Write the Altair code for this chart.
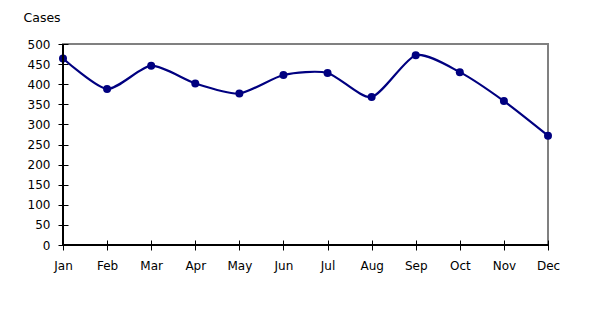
import altair as alt
import pandas as pd

months = ["Jan", "Feb", "Mar", "Apr", "May", "Jun", "Jul", "Aug", "Sep", "Oct", "Nov", "Dec"]
cases = [464, 388, 446, 402, 377, 423, 428, 368, 472, 430, 358, 272]
y_ticks = list(range(0, 501, 50))

df = pd.DataFrame({"month": months, "cases": cases})
one = pd.DataFrame({"k": [0]})

FONT = "DejaVu Sans"
NAVY = "#000080"
W, H = 485, 201

x_scale = alt.Scale(type="point", padding=0, domain=months)
y_scale = alt.Scale(domain=[0, 500], nice=False, zero=True)

x_enc = alt.X("month:N", sort=months, scale=x_scale,
              axis=alt.Axis(title=None, domain=False, offset=-5, tickSize=10, tickColor="black",
                            tickWidth=1, labelPadding=10, labelAngle=0, labelFont=FONT,
                            labelFontSize=12, labelColor="black", grid=False, labelOverlap=False))
y_enc = alt.Y("cases:Q", scale=y_scale,
              axis=alt.Axis(values=y_ticks, domain=False, offset=-5, tickSize=10, tickColor="black",
                            tickWidth=1, labelPadding=8, labelFont=FONT, labelFontSize=12,
                            labelColor="black", grid=False, labelOverlap=False, title="Cases",
                            titleAngle=0, titleAlign="left", titleBaseline="alphabetic",
                            titleX=-45, titleY=-23, titleFont=FONT, titleFontSize=12.5,
                            titleFontWeight="normal", titleColor="black"))

line = alt.Chart(df).mark_line(color=NAVY, strokeWidth=2.2, interpolate="cardinal", tension=0.3).encode(x=x_enc, y=y_enc)
pts = alt.Chart(df).mark_point(filled=True, color=NAVY, size=64, opacity=1).encode(x=x_enc, y=y_enc)

# black frame lines on the left and bottom (the view stroke gives the grey top/right)
left_rule = alt.Chart(one).mark_rule(color="black", strokeWidth=2).encode(
    x=alt.value(0), y=alt.value(0), y2=alt.value(H))
bottom_rule = alt.Chart(one).mark_rule(color="black", strokeWidth=2).encode(
    x=alt.value(0), x2=alt.value(W), y=alt.value(H))

chart = alt.layer(line, pts, left_rule, bottom_rule).properties(
    width=W, height=H,
    autosize=alt.AutoSizeParams(type="none"),
    padding={"left": 55, "top": 36, "right": 40, "bottom": 50},
    background="white",
).configure_view(stroke="#808080", strokeWidth=2)

chart.save("out.html", embed_options={"renderer": "svg", "actions": False})
